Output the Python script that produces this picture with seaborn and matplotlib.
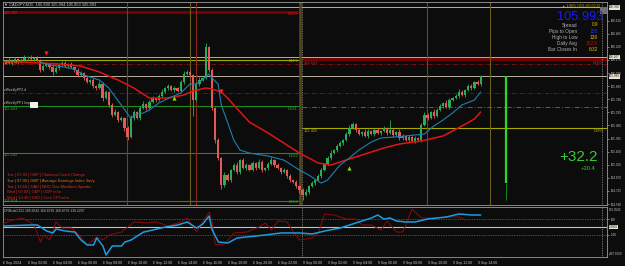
import matplotlib
matplotlib.use("Agg")
import matplotlib.pyplot as plt
from matplotlib.patches import Rectangle
import numpy as np
import pandas as pd
import seaborn as sns

# ---------------- data ----------------
symbol_title = "CADJPY,M15  105.990 105.994 105.953 105.993"
first_open = 106.160
closes = [
    106.152, 106.174, 106.141, 106.163, 106.185, 106.152, 106.174, 106.196, 106.207, 106.185,
    106.196, 106.174, 106.063, 106.107, 106.130, 106.096, 106.041, 106.085, 106.118, 106.141,
    106.107, 106.130, 106.096, 106.063, 106.008, 106.030, 105.975, 105.930, 105.952, 105.886,
    105.864, 105.908, 105.753, 105.820, 105.676, 105.565, 105.598, 105.510, 105.532, 105.421,
    105.321, 105.532, 105.598, 105.532, 105.642, 105.687, 105.642, 105.709, 105.753, 105.731,
    105.775, 105.820, 105.864, 105.886, 105.842, 105.864, 105.831, 105.930, 106.019, 106.041,
    106.008, 105.731, 105.908, 105.952, 105.975, 106.318, 106.063, 105.642, 105.288, 105.089,
    104.790, 104.901, 104.845, 104.956, 105.011, 104.934, 105.067, 104.978, 105.011, 104.956,
    105.034, 104.978, 105.045, 104.956, 104.978, 105.023, 105.067, 105.011, 104.978, 104.934,
    104.956, 104.890, 104.845, 104.823, 104.779, 104.735, 104.679, 104.713, 104.779, 104.812,
    104.845, 104.890, 104.956, 105.023, 105.089, 105.144, 105.177, 105.222, 105.255, 105.288,
    105.355, 105.421, 105.465, 105.399, 105.355, 105.377, 105.333, 105.388, 105.355, 105.399,
    105.366, 105.388, 105.421, 105.366, 105.399, 105.344, 105.377, 105.310, 105.333, 105.288,
    105.321, 105.277, 105.310, 105.288, 105.454, 105.565, 105.532, 105.598, 105.554, 105.620,
    105.665, 105.698, 105.654, 105.731, 105.753, 105.775, 105.820, 105.786, 105.842, 105.886,
    105.864, 105.930, 105.908, 105.993,
]
upper_wick_pips = [
    2, 1, 3, 2, 2, 1, 2, 3, 1, 2,
    1, 2, 1, 2, 2, 1, 3, 2, 1, 2,
    2, 1, 2, 1, 2, 2, 1, 2, 1, 2,
    1, 3, 2, 2, 1, 2, 3, 1, 2, 1,
    2, 3, 2, 1, 2, 3, 1, 2, 2, 1,
    2, 3, 1, 2, 1, 2, 1, 2, 3, 2,
    2, 1, 2, 3, 1, 4, 1, 2, 1, 2,
    1, 3, 2, 1, 2, 3, 1, 2, 2, 1,
    2, 1, 3, 2, 1, 2, 3, 1, 2, 1,
    2, 1, 2, 1, 2, 1, 2, 3, 1, 2,
    1, 2, 2, 1, 2, 3, 1, 2, 2, 1,
    2, 3, 2, 1, 2, 1, 3, 2, 1, 2,
    2, 1, 2, 1, 11, 2, 1, 3, 2, 1,
    2, 1, 2, 1, 2, 3, 2, 1, 3, 2,
    2, 1, 3, 2, 1, 2, 3, 2, 1, 2,
    2, 1, 2, 1,
]
lower_wick_pips = [
    1, 2, 1, 2, 1, 2, 1, 1, 2, 1,
    2, 1, 2, 1, 1, 2, 3, 1, 2, 1,
    1, 2, 1, 2, 2, 1, 2, 1, 2, 2,
    2, 1, 3, 1, 2, 2, 1, 2, 1, 3,
    3, 1, 2, 1, 2, 1, 2, 1, 1, 2,
    1, 2, 1, 2, 1, 2, 1, 1, 2, 1,
    2, 18, 1, 2, 1, 1, 2, 2, 3, 2,
    4, 2, 1, 2, 1, 2, 2, 1, 2, 1,
    1, 2, 1, 2, 1, 2, 1, 2, 1, 2,
    1, 2, 2, 1, 2, 3, 5, 1, 2, 1,
    2, 1, 2, 1, 1, 2, 1, 2, 1, 2,
    1, 2, 1, 2, 1, 2, 1, 2, 1, 2,
    1, 2, 1, 2, 1, 2, 1, 2, 2, 1,
    2, 1, 2, 1, 2, 1, 2, 1, 2, 1,
    1, 2, 1, 2, 1, 1, 2, 1, 2, 1,
    2, 1, 1, 2,
]

ma_slow_bars = [0, 6, 12, 18, 25, 28, 31, 37, 42, 47, 53, 58, 61, 65, 67, 70, 72, 74, 79,
                85, 90, 95, 101, 105, 110, 117, 122, 127, 134, 141, 144, 147, 151, 153]
ma_slow_vals = [106.152, 106.152, 106.141, 106.130, 106.107, 106.074, 106.041, 105.952, 105.864,
                105.753, 105.753, 105.786, 105.831, 105.864, 105.853, 105.820, 105.753, 105.676,
                105.487, 105.366, 105.255, 105.144, 105.034, 105.011, 105.067, 105.144, 105.200,
                105.244, 105.277, 105.333, 105.388, 105.443, 105.521, 105.598]
ma_fast_bars = [12, 15, 18, 23, 26, 30, 31, 34, 38, 41, 43, 45, 47, 50, 54, 57, 60, 62, 64, 66,
                67, 69, 70, 72, 74, 76, 79, 85, 90, 95, 98, 102, 104, 108, 111, 114, 118, 121,
                125, 129, 135, 138, 141, 144, 147, 151, 153]
ma_fast_vals = [106.152, 106.118, 106.107, 106.074, 106.008, 105.963, 105.952, 105.864, 105.676,
                105.532, 105.576, 105.587, 105.620, 105.698, 105.764, 105.808, 105.908, 105.908,
                105.952, 106.019, 105.975, 105.908, 105.676, 105.487, 105.288, 105.177, 105.144,
                105.111, 105.067, 104.956, 104.901, 104.812, 104.845, 105.011, 105.089, 105.177,
                105.266, 105.310, 105.321, 105.333, 105.355, 105.443, 105.510, 105.587, 105.676,
                105.731, 105.820]

cci_sig_bars = [0, 9, 11, 14, 16, 17, 20, 23, 25, 27, 29, 30, 32, 33, 35, 38, 39, 41, 45, 48, 52,
                56, 59, 62, 64, 66, 67, 69, 72, 75, 78, 81, 84, 89, 95, 99, 103, 108, 111, 114,
                118, 120, 122, 124, 126, 129, 132, 136, 142, 146, 150, 153]
cci_sig_vals = [13, 26, 26, -52, -77, -26, -52, -65, -168, -232, -232, -142, -245, -361, -245,
                -245, -194, -168, -65, -39, 0, 26, 65, -13, 39, 142, -39, -194, -206, -142, -129,
                -116, -103, -77, -77, -90, -52, -13, 26, 65, 116, 155, 103, 116, 77, 65, 65, 103,
                129, 168, 155, 155]
cci_raw_bars = [0, 2, 6, 8, 10, 12, 13, 15, 17, 19, 22, 25, 27, 30, 32, 34, 38, 42, 46, 49, 53,
                57, 59, 62, 64, 66, 67, 68, 71, 72, 74, 78, 82, 84, 86, 88, 91, 93, 95, 99, 101,
                103, 106, 110, 113, 115, 118, 121, 123, 126, 128, 129, 131, 134, 138, 143, 146, 148]
cci_raw_vals = [39, 77, 116, 77, 26, -194, -103, -168, 65, -13, -13, -129, -232, -129, -168, -103,
                -65, 65, 52, 65, 13, 65, 116, -65, 65, 194, 65, -232, -219, -168, -77, -65, 0, 52,
                -39, 77, 65, -65, -168, -142, -77, 168, 155, 103, 103, 26, 26, -39, 77, -65, -65,
                26, 232, 116, 116, 129, 129, 90]

tick_bars = [0, 8, 16, 24, 32, 40, 48, 56, 64, 72, 80, 88, 96, 104, 112, 120, 128, 136, 144, 152]
time_labels = ["6 Sep 2024", "6 Sep 02:00", "6 Sep 04:00", "6 Sep 06:00", "6 Sep 08:00",
               "6 Sep 10:00", "6 Sep 12:00", "6 Sep 14:00", "6 Sep 16:00", "6 Sep 18:00",
               "6 Sep 20:00", "6 Sep 22:00", "9 Sep 00:00", "9 Sep 02:00", "9 Sep 04:00",
               "9 Sep 06:00", "9 Sep 08:00", "9 Sep 10:00", "9 Sep 12:00", "9 Sep 14:00"]
price_ticks = [104.580, 104.725, 104.870, 105.015, 105.160, 105.305, 105.450, 105.595,
               105.740, 105.885, 106.030, 106.175, 106.320, 106.465, 106.610]
price_tick_labels = ["104.580", "104.725", "104.870", "105.015", "105.160", "105.305", "105.450",
                     "105.595", "105.740", "105.885", "106.030", "106.175", "106.320", "106.465",
                     "106.610"]

left_levels = [("D1R3", 106.702), ("D1P0", 106.174), ("D1S1", 105.663), ("D1S2", 105.142),
               ("D1S3", 104.614)]
right_r1 = 106.181
right_p0 = 105.425
right_s1 = 105.654
weekly_levels = [106.130, 105.808]
gray_levels = [106.760, 106.207, 105.993]
bid_price = 105.993

events = ["Tue | 07:00 | GBP | Claimant Count Change",
          "Tue | 07:00 | GBP | Average Earnings Index 3m/y",
          "Tue | 13:10 | CAD | BOC Gov Macklem Speaks",
          "Wed | 07:00 | GBP | GDP m/m",
          "Wed | 13:30 | USD | Core CPI m/m"]
event_colors = ["#e02020", "#e07820", "#e03a20", "#e02020", "#e02020"]

info_names = ["Spread", "Pips to Open", "High to Low", "Daily Avg", "Bar Closes In"]
info_values = ["0.9", "155", "139", "152.0", "6:32"]
info_colors = ["#e0c000", "#2030ff", "#e0c000", "#e00000", "#e0c000"]

# ---------------- style ----------------
BG = "#0c0c0c"
sns.set_theme(style="dark", rc={"axes.facecolor": BG, "figure.facecolor": BG,
                                "axes.edgecolor": "#9a9a9a", "axes.grid": False,
                                "xtick.color": "#c8c8c8", "ytick.color": "#c8c8c8"})
plt.rcParams['font.family'] = ['Liberation Sans', 'DejaVu Sans']

W, H = 625.0, 266.0
fig = plt.figure(figsize=(6.25, 2.66), dpi=100)


def rect(x0, y0, x1, y1):
    return [x0 / W, 1 - y1 / H, (x1 - x0) / W, (y1 - y0) / H]


def ftxt(x, y, s, **kw):
    kw.setdefault("va", "center")
    return fig.text(x / W, 1 - y / H, s, **kw)


ax = fig.add_axes(rect(3, 2, 607, 205))
axi = fig.add_axes(rect(3, 207, 607, 257))
XL = (0.16, 193.44)
for a in (ax, axi):
    a.set_xlim(*XL)
    for sp in a.spines.values():
        sp.set_color("#9a9a9a")
        sp.set_linewidth(0.6)
ax.set_ylim(104.569, 106.816)
axi.set_ylim(-387, 258)

# ---------------- main panel ----------------
c = np.array(closes)
o = np.r_[first_open, c[:-1]]
hi = np.maximum(o, c) + np.array(upper_wick_pips) * 0.01
lo = np.minimum(o, c) - np.array(lower_wick_pips) * 0.01
idx = np.arange(len(c))
cols = np.where(c >= o, "#2aae55", "#e4585a")

DAY_SPLIT = 95.2
for p in gray_levels:
    ax.axhline(p, color="#b8b0a0", lw=0.7, zorder=1)
for p in weekly_levels:
    ax.axhline(p, color="#8a1010", lw=0.6, ls=(0, (5, 2, 1, 2)), zorder=1)
lv_cols = {"D1R3": "#7a0000", "D1P0": "#a8a800", "D1S1": "#1f8a1f", "D1S2": "#1f8a1f",
           "D1S3": "#1f8a1f"}
for name, p in left_levels:
    lw = 2.0 if name == "D1R3" else 0.8
    ax.hlines(p, XL[0], DAY_SPLIT, color=lv_cols[name], lw=lw, zorder=1)
ax.hlines(right_r1, DAY_SPLIT + 0.6, XL[1], color="#7a0000", lw=2.0, zorder=1)
ax.hlines(right_p0, DAY_SPLIT + 0.6, XL[1], color="#a8a800", lw=0.8, zorder=1)
ax.hlines(right_s1, DAY_SPLIT + 0.6, XL[1], color="#1f8a1f", lw=0.7,
          ls=(0, (5, 2, 1, 2)), zorder=1)

vlines = [(39.8, "#8a3418", 0.8), (60.0, "#6a5a1c", 0.8), (61.9, "#8a2818", 0.8),
          (95.2, "#5a4a16", 1.8), (135.8, "#8a3418", 0.8), (156.0, "#6a5a1c", 0.8)]
for xb, col, lw in vlines:
    ax.axvline(xb, color=col, lw=lw, zorder=1)
for a in (ax, axi):
    a.axvline(95.8, color="#c8c8c8", lw=0.5, ls=(0, (1, 1.5)), zorder=1)
    a.axvline(191.8, color="#c8c8c8", lw=0.5, ls=(0, (1, 1.5)), zorder=1)
ax.vlines(161.1, 104.812, bid_price, color="#22dd22", lw=1.6, zorder=2)
ax.vlines(161.1, 104.624, 104.812, color="#138a13", lw=0.7, zorder=2)

# candles
ax.vlines(idx, lo, hi, colors=cols, lw=0.6, zorder=3)
ax.bar(idx, np.maximum(np.abs(c - o), 0.005), bottom=np.minimum(o, c), width=0.72,
       color=cols, lw=0, zorder=4)

# moving averages
sns.lineplot(x=ma_slow_bars, y=ma_slow_vals, ax=ax, color="#e01515", lw=1.1, zorder=5)
sns.lineplot(x=ma_fast_bars, y=ma_fast_vals, ax=ax, color="#1f7fb0", lw=0.8, zorder=5)

ax.scatter([14, 70], [106.251, 105.831], marker="v", s=9, color="#ff2020", zorder=6, lw=0)
ax.scatter([55, 111], [105.753, 104.978], marker="^", s=9, color="#8ee000", zorder=6, lw=0)

ax.set_xlabel("")
ax.set_ylabel("")
ax.tick_params(axis="x", bottom=False, labelbottom=False)
ax.yaxis.tick_right()
ax.set_yticks(price_ticks)
ax.set_yticklabels(price_tick_labels, fontsize=2.2)
ax.tick_params(axis="y", length=1.5, width=0.4, pad=1.5, colors="#c8c8c8")

# ---------------- indicator panel ----------------
axi.axhline(0, color="#c8c0b0", lw=0.8, zorder=1)
for v in (100, -100):
    axi.axhline(v, color="#8a8a8a", lw=0.5, ls=(0, (1, 1.5)), zorder=1)
sns.lineplot(x=cci_raw_bars, y=cci_raw_vals, ax=axi, color="#8b0a0a", lw=0.7, zorder=3)
sns.lineplot(x=cci_sig_bars, y=cci_sig_vals, ax=axi, color="#1e9be0", lw=1.1, zorder=4)
axi.set_xlabel("")
axi.set_ylabel("")
axi.yaxis.tick_right()
axi.set_yticks([100, -100])
axi.set_yticklabels(["100", "-100"], fontsize=2.2)
axi.tick_params(axis="y", length=1.5, width=0.4, pad=1.5, colors="#c8c8c8")
axi.set_xticks(tick_bars)
axi.set_xticklabels(time_labels, fontsize=2.5, ha="left")
axi.tick_params(axis="x", length=1.5, width=0.4, pad=1.2, colors="#c8c8c8")

# ---------------- texts ----------------
small = dict(fontsize=2.8)
ftxt(4, 4.5, "\u25bc " + symbol_title, color="#c8c8c8", fontsize=2.9)
ftxt(4, 13.5, "106.702", color="#d02020", **small)
ftxt(4, 62.5, "106.174", color="#a8b000", **small)
ftxt(4, 90, "zWeeklyPP2 d", color="#c0c0c0", fontsize=2.4)
ftxt(4, 103, "zWeeklyPP1 Imp", color="#c0c0c0", fontsize=2.4)
fig.patches.append(Rectangle((30 / W, 1 - 108 / H), 8 / W, 6 / H, transform=fig.transFigure,
                             facecolor="#f0f0f0", edgecolor="none"))
ftxt(4, 108.5, "105.663", color="#2fae2f", **small)
ftxt(4, 155.5, "105.142", color="#2fae2f", **small)
ftxt(4, 201.5, "104.614", color="#2fae2f", **small)
lab_y = {"D1R3": 14, "D1P0": 61.5, "D1S1": 108.5, "D1S2": 156, "D1S3": 202}
lab_c = {"D1R3": "#d02020", "D1P0": "#b8b800", "D1S1": "#2fae2f", "D1S2": "#2fae2f",
         "D1S3": "#2fae2f"}
for name, p in left_levels:
    ftxt(298, lab_y[name], name, color=lab_c[name], ha="right", **small)
ftxt(304, 63.5, "106.181", color="#d02020", **small)
ftxt(304, 131, "105.425", color="#b8b800", **small)
ftxt(603, 63.5, "D1R1", color="#d02020", ha="right", **small)
ftxt(603, 131, "D1P0", color="#b8b800", ha="right", **small)

for k, (s, col) in enumerate(zip(events, event_colors)):
    ftxt(7, 175 + 5.8 * k, s, color=col, fontsize=2.9)

ftxt(600, 6, "\u25b2 1.06% (15/1.05) 00:32", color="#c8a800", ha="right", fontsize=2.4)
fig.patches.append(Rectangle((600 / W, 1 - 14 / H), 7 / W, 7 / H, transform=fig.transFigure,
                             facecolor="#707070", edgecolor="none"))
ftxt(603, 16.5, "105.993", color="#1a1aff", ha="right", fontsize=9.2)
for k, (nm, val, col) in enumerate(zip(info_names, info_values, info_colors)):
    yy = 25 + 6.2 * k
    ftxt(577, yy, nm, color="#b4b4b4", ha="right", fontsize=3.4)
    ftxt(598, yy, val, color=col, ha="right", fontsize=3.4)
ftxt(598, 157, "+32.2", color="#33cc33", ha="right", fontsize=11)
ftxt(595, 168.5, "+30.4", color="#33cc33", ha="right", fontsize=4.2)

box = dict(boxstyle="square,pad=0.15", facecolor="#ece4d4", edgecolor="none")
for p, lab in [(106.760, "106.760"), (106.207, "106.207"), (bid_price, "105.993")]:
    ypx = 2 + (106.816 - p) / (106.816 - 104.569) * 203
    ftxt(609, ypx, lab, color="#111111", fontsize=2.2, bbox=box)
ftxt(609, 227, "0.0000", color="#111111", fontsize=2.2, bbox=box)
ftxt(609, 210, "179.2502", color="#c8c8c8", fontsize=2.2)
ftxt(609, 254, "-407.9020", color="#c8c8c8", fontsize=2.2)
ftxt(4, 210.5, "CRBvdeCCI2 105.6643 168.8739 168.8739 139.2297", color="#c0c0c0", fontsize=2.4)

fig.savefig("out.png", dpi=100, facecolor=BG)
